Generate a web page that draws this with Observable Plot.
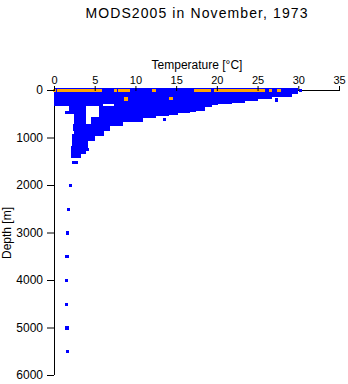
<!DOCTYPE html>
<html><head><meta charset="utf-8">
<script src="https://cdn.jsdelivr.net/npm/d3@7"></script>
<script src="https://cdn.jsdelivr.net/npm/@observablehq/plot@0.6"></script>
<style>body{margin:0;background:#fff;} svg{display:block;}</style>
</head><body><div id="chart"></div>
<script>
const title = "MODS2005 in November, 1973";
const xLabel = "Temperature [°C]";
const yLabel = "Depth [m]";
const xTicks = [0, 5, 10, 15, 20, 25, 30, 35];
const yTicks = [0, 1000, 2000, 3000, 4000, 5000, 6000];

// dense part of the blue cloud, read as blocks: [T from, T to, depth from, depth to]
const cloudBlocks = [
  [0.1, 2.2, -25, 320],
  [2.2, 5.9, -25, 330],
  [5.9, 7.5, -25, 290],
  [7.5, 8.4, -25, 740],
  [8.4, 10.8, -25, 650],
  [10.8, 12.4, -25, 570],
  [12.4, 14.0, -25, 525],
  [14.0, 15.2, -25, 505],
  [15.2, 16.6, -25, 470],
  [16.6, 17.3, -25, 440],
  [17.3, 18.5, -25, 420],
  [18.5, 19.3, -25, 340],
  [19.3, 20.0, -25, 310],
  [20.0, 21.8, -25, 275],
  [21.8, 23.4, -25, 255],
  [23.4, 25.0, -25, 210],
  [25.0, 26.7, -25, 170],
  [26.7, 29.2, -25, 140],
  [29.2, 29.9, -25, 65],
  [1.9, 3.8, 320, 485],
  [2.5, 3.8, 485, 760],
  [2.4, 6.8, 740, 845],
  [2.5, 6.0, 845, 950],
  [2.3, 5.0, 950, 1055],
  [2.3, 4.1, 1055, 1200],
  [2.2, 3.8, 1200, 1330],
  [2.2, 3.2, 1330, 1410],
  [5.6, 7.5, 350, 740],
  [4.6, 5.6, 590, 740]
];

// isolated blue profiles
const blueT = [1.52, 2.35, 2.7, 2.75, 4.0, 13.5, 27.3, 30.2, 1.97, 1.72, 1.6, 1.52, 1.47, 1.47, 1.52, 1.56];
const blueD = [463, 1515, 1515, 1368, 1242, 617, 200, 0, 2000, 2500, 3000, 3500, 4000, 4500, 5000, 5500];

// orange (surface) observations
const orangeT = [0, 0.5, 0.8, 1.1, 1.4, 1.9, 2.2, 2.5, 2.8, 3.1, 3.4, 3.7, 4.0, 4.3, 4.6, 4.9, 5.2, 5.6,
  7.5, 8.0, 8.3, 8.6, 8.9, 9.1, 12.2, 17.4, 17.8, 18.1, 18.4, 18.7, 19.0, 19.8, 20.1, 20.4, 20.7, 21.0,
  21.3, 21.6, 22.0, 22.3, 22.6, 22.9, 23.2, 23.5, 23.8, 24.1, 24.4, 24.7, 25.0, 25.3, 25.6, 26.5, 27.6, 8.8, 14.3];
const orangeD = [0, 0, 0, 0, 0, 0, 0, 0, 0, 0, 0, 0, 0, 0, 0, 0, 0, 0,
  0, 0, 0, 0, 0, 0, 0, 0, 0, 0, 0, 0, 0, 0, 0, 0, 0, 0,
  0, 0, 0, 0, 0, 0, 0, 0, 0, 0, 0, 0, 0, 0, 0, 0, 0, 183, 170];

const blue = blueT.map((t, i) => ({t, d: blueD[i]}));
const orange = orangeT.map((t, i) => ({t, d: orangeD[i]}));

const chart = Plot.plot({
  width: 348, height: 384,
  marginTop: 90, marginBottom: 9, marginLeft: 54, marginRight: 9,
  style: {fontFamily: "'Liberation Sans', Arial, sans-serif", fontSize: "12px", background: "white", color: "black"},
  x: {domain: [0, 35]},
  y: {domain: [0, 6000], reverse: true},
  marks: [
    Plot.ruleY([0], {stroke: "black"}),
    Plot.ruleX([0], {stroke: "black"}),
    Plot.rect(cloudBlocks, {x1: d => d[0], x2: d => d[1], y1: d => d[2], y2: d => d[3], fill: "#0000ff", inset: -0.7, shapeRendering: "crispEdges"}),
    Plot.dot(blue, {x: "t", y: "d", symbol: "square", r: 1.9, fill: "#0000ff", shapeRendering: "crispEdges"}),
    Plot.dot(orange, {x: "t", y: "d", symbol: "square", r: 2, fill: "#ffa500", shapeRendering: "crispEdges"}),
    Plot.axisX(xTicks, {anchor: "top", tickSize: 5, tickPadding: 1.5, fontSize: 11, tickFormat: "d", label: null}),
    Plot.axisY(yTicks, {anchor: "left", tickSize: 7, tickPadding: 4.5, fontSize: 12, tickFormat: "d", label: null}),
    Plot.text([title], {text: d => d, frameAnchor: "top", dy: -73, lineAnchor: "bottom", fontSize: 14}),
    Plot.text([xLabel], {text: d => d, frameAnchor: "top", dy: -22, lineAnchor: "bottom", fontSize: 12}),
    Plot.text([yLabel], {text: d => d, frameAnchor: "left", dx: -47, rotate: -90, lineAnchor: "middle", textAnchor: "middle", fontSize: 12})
  ]
});
d3.select(chart).selectAll("text").filter(function() { return this.textContent === title; })
  .style("letter-spacing", "1.1px");
document.getElementById("chart").appendChild(chart);
</script>
</body></html>
